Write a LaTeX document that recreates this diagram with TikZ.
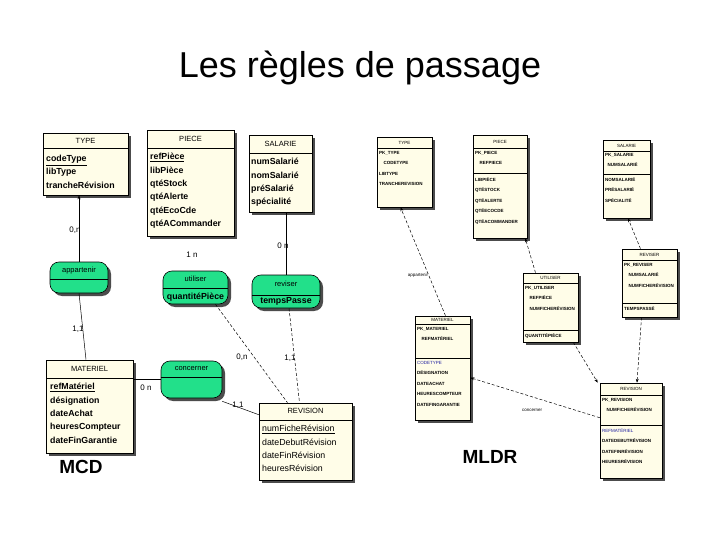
\documentclass[tikz,border=0pt]{standalone}
\usepackage{fontspec}
\setmainfont{Liberation Sans}
\usetikzlibrary{fit,arrows.meta}
\definecolor{boxfill}{HTML}{FFFDE8}
\definecolor{assoc}{HTML}{22E08A}
\definecolor{fkblue}{HTML}{2020A0}
\tikzset{
  x=1pt,y=-1pt,
  ent/.style={draw=black,fill=boxfill,inner sep=0pt,line width=0.6pt},
  shad/.style={fill=black!70,draw=none},
  hdr/.style={font=\fontsize{7.5}{8}\selectfont},
  attr/.style={anchor=north west,align=left,inner sep=0pt,yshift=-3pt,font=\fontsize{8.8}{13.4}\selectfont\bfseries},
  attrn/.style={anchor=north west,align=left,inner sep=0pt,yshift=-3pt,font=\fontsize{8.8}{13.4}\selectfont},
  lhdr/.style={font=\fontsize{4.5}{5}\selectfont},
  lat/.style={anchor=north west,align=left,inner sep=0pt,font=\fontsize{4.5}{10.5}\selectfont\bfseries},
  card/.style={font=\fontsize{8}{9}\selectfont,inner sep=1pt},
  lk/.style={line width=0.5pt},
  dlk/.style={line width=0.5pt,densely dashed,-{Stealth[length=4pt,width=3pt]}},
  lbl/.style={font=\fontsize{4.5}{5}\selectfont,inner sep=0pt}
}
\newcommand\entbox[6]{% name x1 y1 x2 y2 headerY
  \fill[shad] (#2+3,#3+3) rectangle (#4+3,#5+3);
  \node[ent,fit={(#2,#3)(#4,#5)}] (#1) {};
  \draw[line width=0.5pt] (#2,#6) -- (#4,#6);}
\newcommand\asbox[6]{% name x1 y1 x2 y2 lineY
  \fill[shad,rounded corners=9pt] (#2+3,#3+3) rectangle (#4+3,#5+3);
  \node[draw=black,fill=assoc,rounded corners=9pt,inner sep=0pt,line width=0.6pt,fit={(#2,#3)(#4,#5)}] (#1) {};
  \draw[line width=0.5pt] (#2,#6) -- (#4,#6);}
\begin{document}
\begin{tikzpicture}
\useasboundingbox (0,0) rectangle (720,540);
\fill[white] (0,0) rectangle (720,540);
\node[font=\fontsize{36}{40}\selectfont] (title) at (360,68) {Les règles de passage};

% ===== MCD =====
\entbox{tM}{43}{133}{128}{195}{148}
\node[hdr] (tMh) at (85.5,141) {TYPE};
\node[attr] (tMa) at (46,152) {\underline{codeType}\\libType\\trancheRévision};

\entbox{pM}{147}{130}{234}{236}{148}
\node[hdr] (pMh) at (190.5,139) {PIECE};
\node[attr] (pMa) at (150,150) {\underline{refPièce}\\libPièce\\qtéStock\\qtéAlerte\\qtéEcoCde\\qtéACommander};

\entbox{sM}{249}{135}{312}{212}{153}
\node[hdr] (sMh) at (280.5,144) {SALARIE};
\node[attr] (sMa) at (251,155) {numSalarié\\nomSalarié\\préSalarié\\spécialité};

\entbox{mM}{46}{360}{133}{453}{378}
\node[hdr] (mMh) at (89.5,369) {MATERIEL};
\node[attr] (mMa) at (50,380) {\underline{refMatériel}\\désignation\\dateAchat\\heuresCompteur\\dateFinGarantie};

\entbox{rM}{259}{403}{352}{480}{420}
\node[hdr] (rMh) at (305.5,411) {REVISION};
\node[attrn] (rMa) at (262,422) {\underline{numFicheRévision}\\dateDebutRévision\\dateFinRévision\\heuresRévision};

\asbox{aA}{50}{262}{108}{293}{279}
\node[hdr] (aAh) at (79,271) {appartenir};
\asbox{aU}{163}{271}{228}{304}{288}
\node[hdr] (aUh) at (195.5,279) {utiliser};
\node[attr,anchor=center,yshift=3pt] (aUa) at (195.5,297) {quantitéPièce};
\asbox{aR}{252}{275}{320}{308}{295}
\node[hdr] (aRh) at (286,284) {reviser};
\node[attr,anchor=center,yshift=3pt] (aRa) at (286,301) {tempsPasse};
\asbox{aC}{161}{361}{222}{398}{377}
\node[hdr] (aCh) at (191.5,369) {concerner};

\draw[lk,-{Stealth[length=4pt,width=3pt]}] (aA.north) -- (aA.north |- tM.south);
\node[card] (c1) at (75,230) {0,n};
\draw[lk] (aA.south) -- ([xshift=-3.5pt]mM.north);
\node[card] (c2) at (78,329) {1,1};
\node[card] (c3) at (192,255) {1 n};
\draw[lk] (aR.north) -- (aR.north |- sM.south);
\node[card] (c4) at (283,246) {0 n};
\draw[lk,densely dashed] ([xshift=20pt]aU.south) -- ([xshift=-18pt]rM.north);
\node[card] (c5) at (242,357) {0,n};
\draw[lk,densely dashed] ([xshift=3pt]aR.south) -- ([xshift=-6pt]rM.north);
\node[card] (c6) at (290,358) {1,1};
\draw[lk] (aC.west) -- (aC.west -| mM.east);
\node[card] (c7) at (146,388) {0 n};
\draw[lk] ([yshift=-3pt]aC.south east) -- ([yshift=-12pt]rM.north west);
\node[card] (c8) at (238,405) {1,1};

\node[font=\fontsize{19}{22}\selectfont\bfseries] (mcd) at (81,467) {MCD};

% ===== MLDR =====
\entbox{tL}{377}{137}{432}{207}{148}
\node[lhdr] (tLh) at (404.5,142.5) {TYPE};
\node[lat] (tLa) at (379,151) {PK\_TYPE\\\quad CODETYPE\\LIBTYPE\\TRANCHEREVISION};

\entbox{pL}{473}{135}{527}{238}{148}
\node[lhdr] (pLh) at (500,141.5) {PIECE};
\draw[line width=0.4pt] (473,173) -- (527,173);
\node[lat] (pLa) at (475,151) {PK\_PIECE\\\quad REFPIECE};
\node[lat] (pLb) at (475,177) {LIBPIÈCE\\QTÉSTOCK\\QTÉALERTE\\QTÉECOCDE\\QTÉACOMMANDER};

\entbox{sL}{603}{140}{650}{218}{151}
\node[lhdr] (sLh) at (626.5,145.5) {SALARIE};
\draw[line width=0.4pt] (603,174) -- (650,174);
\node[lat] (sLa) at (605,153) {PK\_SALARIE\\\ \ NUMSALARIÉ};
\node[lat] (sLb) at (605,177) {NOMSALARIÉ\\PRÉSALARIÉ\\SPÉCIALITÉ};

\entbox{vL}{622}{249}{677}{317}{260}
\node[lhdr] (vLh) at (649.5,254.5) {REVISER};
\draw[line width=0.4pt] (622,303) -- (677,303);
\node[lat] (vLa) at (624,263) {PK\_REVISER\\\quad NUMSALARIÉ\\\quad NUMFICHERÉVISION};
\node[lat] (vLb) at (624,306) {TEMPSPASSÉ};

\entbox{uL}{523}{273}{578}{342}{283}
\node[lhdr] (uLh) at (550.5,278) {UTILISER};
\draw[line width=0.4pt] (523,330) -- (578,330);
\node[lat] (uLa) at (525,286) {PK\_UTILISER\\\quad REFPIÈCE\\\quad NUMFICHERÉVISION};
\node[lat] (uLb) at (525,333) {QUANTITÉPIÈCE};

\entbox{mL}{415}{316}{470}{420}{324}
\node[lhdr] (mLh) at (442.5,320) {MATERIEL};
\draw[line width=0.4pt] (415,358) -- (470,358);
\node[lat] (mLa) at (417,327) {PK\_MATERIEL\\\quad REFMATÉRIEL};
\node[lat] (mLb) at (417,361) {\textcolor{fkblue}{\mdseries CODETYPE}\\DÉSIGNATION\\DATEACHAT\\HEURESCOMPTEUR\\DATEFINGARANTIE};

\entbox{rL}{600}{383}{662}{478}{395}
\node[lhdr] (rLh) at (631,389) {REVISION};
\draw[line width=0.4pt] (600,425) -- (662,425);
\node[lat] (rLa) at (602,398) {PK\_REVISION\\\quad NUMFICHERÉVISION};
\node[lat] (rLb) at (602,428) {\textcolor{fkblue}{\mdseries REFMATÉRIEL}\\DATEDEBUTRÉVISION\\DATEFINRÉVISION\\HEURESRÉVISION};

\draw[dlk] ([xshift=3pt]mL.north) -- ([xshift=-4pt]tL.south);
\node[lbl] (l1) at (418,275) {appartenir};
\draw[dlk] ([xshift=-15pt]uL.north) -- ([xshift=-2pt]pL.south east);
\draw[dlk] ([xshift=-9pt]vL.north) -- (sL.south -| 628,0);
\draw[dlk] ([xshift=-5pt]uL.south east) -- ([xshift=-2pt]rL.north west);
\draw[dlk] ([xshift=-8pt]vL.south) -- ([xshift=6pt]rL.north);
\draw[dlk] ([yshift=-35pt]rL.north west) -- ([yshift=-62pt]mL.north east);
\node[lbl] (l2) at (532,410) {concerner};

\node[font=\fontsize{19}{21}\selectfont\bfseries] (mldr) at (490,457) {MLDR};
\end{tikzpicture}
\end{document}
